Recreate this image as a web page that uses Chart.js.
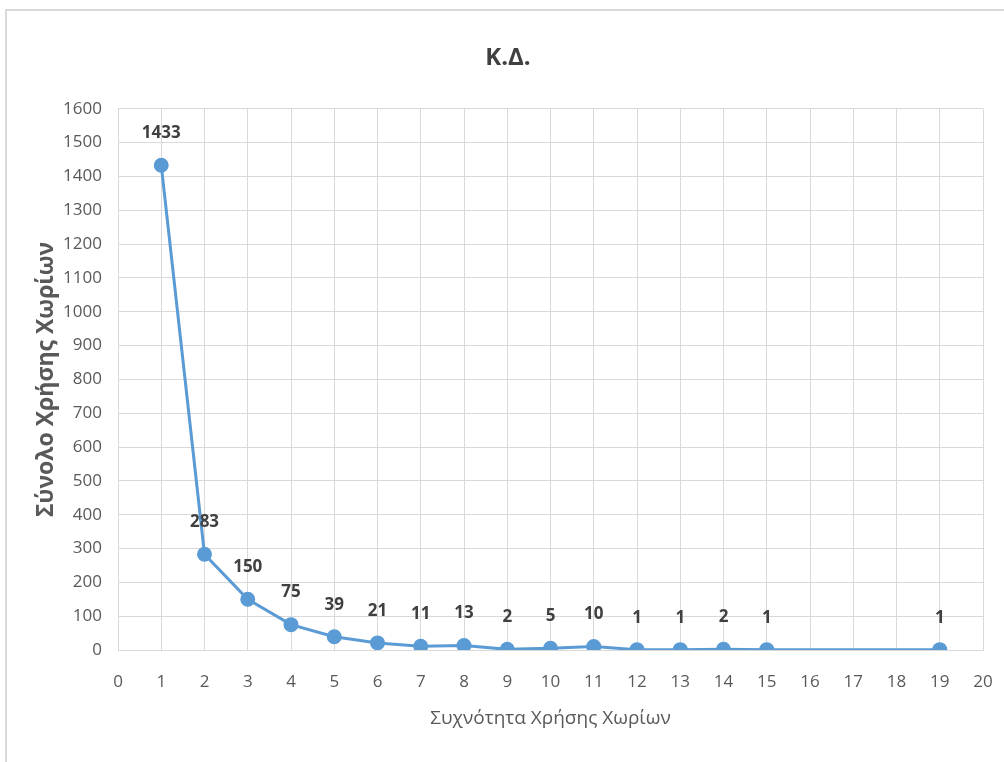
<!DOCTYPE html>
<html>
<head>
<meta charset="utf-8">
<script src="https://cdn.jsdelivr.net/npm/chart.js@4"></script>
<style>
  html, body { margin: 0; padding: 0; background: #fff; }
  #frame { position: absolute; left: 5px; top: 9px; width: 1010px; height: 760px; border: 2px solid #d9d9d9; box-sizing: border-box; }
  #wrap { position: absolute; left: 0; top: 0; width: 1004px; height: 762px; }
</style>
</head>
<body>
<div id="frame"></div>
<div id="wrap"><canvas id="kdChart"></canvas></div>
<script>
// Χρήση χωρίων: συχνότητα -> σύνολο
const frequency = [1, 2, 3, 4, 5, 6, 7, 8, 9, 10, 11, 12, 13, 14, 15, 19];
const totals = [1433, 283, 150, 75, 39, 21, 11, 13, 2, 5, 10, 1, 1, 2, 1, 1];
const xRange = [0, 20];
const yRange = [0, 1600];

const FONT = "'Open Sans', 'Noto Sans', sans-serif";

// draw the value above each point
const pointLabels = {
    id: 'pointLabels',
    afterDatasetsDraw(chart) {
        const ctx = chart.ctx;
        const meta = chart.getDatasetMeta(0);
        ctx.save();
        ctx.font = "bold 17px " + FONT;
        ctx.fillStyle = "#404040";
        ctx.textAlign = "center";
        ctx.textBaseline = "middle";
        meta.data.forEach((pt, i) => {
            ctx.fillText(String(totals[i]), pt.x, pt.y - 32);
        });
        ctx.restore();
    }
};

const ctx = document.getElementById("kdChart").getContext("2d");
const kdChart = new Chart(ctx, {
    type: "line",
    data: {
        datasets: [{
            label: "Κ.Δ.",
            data: frequency.map((f, i) => ({ x: f, y: totals[i] })),
            borderColor: "#5b9bd5",
            backgroundColor: "#5b9bd5",
            borderWidth: 3,
            pointRadius: 6,
            pointHoverRadius: 6,
            tension: 0
        }]
    },
    options: {
        responsive: true,
        maintainAspectRatio: false,
        animation: false,
        layout: { padding: { left: 33, right: 21, top: 0, bottom: 0 } },
        plugins: {
            legend: { display: false },
            tooltip: { enabled: false },
            title: {
                display: true,
                text: "Κ.Δ.",
                color: "#404040",
                font: { family: FONT, size: 24, weight: "bold" },
                padding: { top: 44, bottom: 36 }
            }
        },
        scales: {
            x: {
                type: "linear",
                min: xRange[0],
                max: xRange[1],
                grid: { color: "#d9d9d9", drawTicks: false },
                border: { color: "#d9d9d9" },
                ticks: {
                    stepSize: 1,
                    padding: 22,
                    color: "#595959",
                    font: { family: FONT, size: 17 }
                },
                title: {
                    display: true,
                    text: "Συχνότητα Χρήσης Χωρίων",
                    color: "#595959",
                    font: { family: FONT, size: 19 },
                    padding: { top: 0, bottom: 32 }
                },
                afterFit(scale) {
                    scale.height = 112;
                    scale.paddingRight = 0;
                }
            },
            y: {
                min: yRange[0],
                max: yRange[1],
                grid: { color: "#d9d9d9", drawTicks: false },
                border: { display: false },
                ticks: {
                    stepSize: 100,
                    padding: 16,
                    color: "#595959",
                    font: { family: FONT, size: 17 },
                    callback: value => String(value)
                },
                title: {
                    display: true,
                    text: "Σύνολο Χρήσης Χωρίων",
                    color: "#595959",
                    font: { family: FONT, size: 23, weight: "bold" },
                    padding: { top: 0, bottom: 0 }
                },
                afterFit(scale) { scale.width = 85; }
            }
        }
    },
    plugins: [pointLabels]
});
</script>
</body>
</html>
